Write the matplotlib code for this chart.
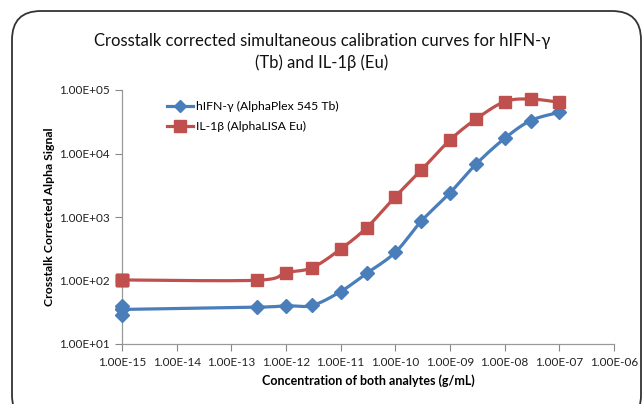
import numpy as np
import matplotlib
matplotlib.use("Agg")
import matplotlib.pyplot as plt
from matplotlib.patches import FancyBboxPatch

# ---- data ----
conc = [1e-15, 3e-13, 1e-12, 3e-12, 1e-11, 3e-11, 1e-10, 3e-10, 1e-9, 3e-9, 1e-8, 3e-8, 1e-7]
hifn = [35, 38, 40, 40.5, 67, 130, 278, 865, 2400, 6800, 17300, 33000, 44500]
il1b = [102, 101, 133, 159, 313, 680, 2090, 5500, 16300, 34900, 65400, 72000, 64000]
blank_conc = [1e-15, 1e-15, 1e-15]
hifn_blank = [40, 35, 29]
il1b_blank = [103, 102, 101]

xticks = [1e-15, 1e-14, 1e-13, 1e-12, 1e-11, 1e-10, 1e-9, 1e-8, 1e-7, 1e-6]
yticks = [1e1, 1e2, 1e3, 1e4, 1e5]

title = "Crosstalk corrected simultaneous calibration curves for hIFN-\u03b3\n(Tb) and IL-1\u03b2 (Eu)"
label_hifn = "hIFN-\u03b3 (AlphaPlex 545 Tb)"
label_il1b = "IL-1\u03b2 (AlphaLISA Eu)"
xlabel = "Concentration of both analytes (g/mL)"
ylabel = "Crosstalk Corrected Alpha Signal"

BLUE = "#4A7EBB"
RED = "#C0504D"

plt.rcParams['font.family'] = ['Lato', 'DejaVu Sans']


def smooth(xs, ys, n=30):
    lx = np.log10(xs)
    ly = np.log10(ys)
    P = np.column_stack([lx, ly])
    out = []
    for i in range(len(P) - 1):
        p0 = P[i - 1] if i > 0 else P[i]
        p1 = P[i]
        p2 = P[i + 1]
        p3 = P[i + 2] if i + 2 < len(P) else P[i + 1]
        c1 = p1 + (p2 - p0) / 6.0
        c2 = p2 - (p3 - p1) / 6.0
        t = np.linspace(0, 1, n)[:, None]
        seg = ((1 - t) ** 3) * p1 + 3 * ((1 - t) ** 2) * t * c1 + 3 * (1 - t) * t ** 2 * c2 + t ** 3 * p2
        out.append(seg if i == 0 else seg[1:])
    S = np.vstack(out)
    return 10 ** S[:, 0], 10 ** S[:, 1]


W, H = 643, 404
fig = plt.figure(figsize=(W / 100, H / 100), dpi=100)
fig.patch.set_facecolor("white")

# rounded chart border
border = FancyBboxPatch((12 / W, -20 / H), (641 - 12) / W, (393 + 20) / H,
                        boxstyle="round,pad=0,rounding_size=0.045",
                        transform=fig.transFigure, fill=False,
                        edgecolor="#333333", linewidth=1.3, clip_on=False,
                        mutation_aspect=W / H)
fig.patches.append(border)

ax = fig.add_axes([122 / W, 1 - 344 / H, (614 - 122) / W, (344 - 90) / H])
ax.set_xscale("log")
ax.set_yscale("log")
ax.set_xlim(1e-15, 1e-6)
ax.set_ylim(1e1, 1e5)

sx, sy = smooth(conc, hifn)
ax.plot(sx, sy, color=BLUE, lw=2.3, zorder=3)
sx2, sy2 = smooth(conc, il1b)
ax.plot(sx2, sy2, color=RED, lw=2.3, zorder=3)

ax.plot(conc, hifn, ls="none", marker="D", ms=7, color=BLUE, zorder=4)
ax.plot(blank_conc, hifn_blank, ls="none", marker="D", ms=7, color=BLUE, zorder=4)
ax.plot(conc, il1b, ls="none", marker="s", ms=9, color=RED, zorder=5)
ax.plot(blank_conc, il1b_blank, ls="none", marker="s", ms=9, color=RED, zorder=5)

for a in ax.lines:
    a.set_clip_on(False)

# legend proxies
h1, = ax.plot([], [], color=BLUE, lw=2.3, marker="D", ms=6)
h2, = ax.plot([], [], color=RED, lw=2.3, marker="s", ms=8)
leg = ax.legend(handles=[h1, h2], labels=[label_hifn, label_il1b],
                loc="upper left", bbox_to_anchor=(40 / 492, 1 - 6 / 254),
                frameon=False, fontsize=8.8, handlelength=2.1, handletextpad=0.3,
                labelspacing=0.75, borderaxespad=0)

ax.set_xticks(xticks)
ax.set_xticklabels(["%.2E" % v for v in xticks])
ax.set_yticks(yticks)
ax.set_yticklabels(["%.2E" % v for v in yticks])
ax.minorticks_off()
ax.tick_params(axis="both", which="major", labelsize=8.5, colors="#888888",
               labelcolor="#222222", length=5, width=0.8, direction="out")
ax.tick_params(axis="x", pad=4)
ax.tick_params(axis="y", pad=4)
for s in ["top", "right"]:
    ax.spines[s].set_visible(False)
for s in ["left", "bottom"]:
    ax.spines[s].set_color("#999999")
    ax.spines[s].set_linewidth(0.9)

ax.set_xlabel(xlabel, fontsize=9, fontweight="bold", labelpad=5)
ax.set_ylabel(ylabel, fontsize=8.8, fontweight="bold", labelpad=3)

fig.text(322 / W, 1 - 52 / H, title, ha="center", va="center", fontsize=12,
         linespacing=1.35, color="#111111")

fig.savefig("out.png", dpi=100)
